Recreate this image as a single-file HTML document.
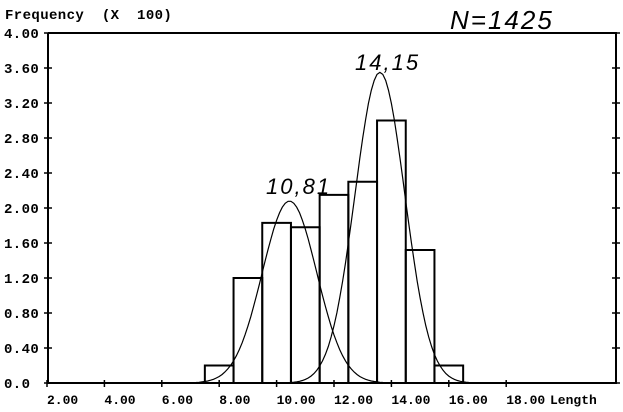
<!DOCTYPE html>
<html><head><style>
html,body{margin:0;padding:0;background:#fff;}
svg{display:block;}
text{font-family:"Liberation Mono",monospace;font-weight:bold;font-size:14px;fill:#000;letter-spacing:0.4px;white-space:pre;}
.xl{font-size:13px;letter-spacing:0;}
.h{font-family:"Liberation Sans",sans-serif;font-style:italic;font-weight:normal;letter-spacing:2px;}
</style></head><body>
<svg id="s" width="623" height="412" viewBox="0 0 623 412" xmlns="http://www.w3.org/2000/svg">
<g stroke="#000" fill="none" stroke-width="2">
<line x1="48" y1="33" x2="617" y2="33"/>
<line x1="48" y1="33" x2="48" y2="384"/>
<line x1="616" y1="33" x2="616" y2="384"/>
<line x1="47" y1="383" x2="617" y2="383"/>
</g>
<g id="ticks" stroke="#000" stroke-width="1.5"></g>
<g id="bars" stroke="#000" stroke-width="2" fill="none"></g>
<g id="curves" stroke="#000" stroke-width="1.2" fill="none"></g>
<text x="5" y="19">Frequency  (X  100)</text>
<g id="ylab"></g>
<g id="xlab"></g>
<text class="xl" x="550" y="404">Length</text>
<text class="h" x="450" y="29" style="font-size:26px">N=1425</text>
<text class="h" x="355" y="70" style="font-size:22px">14,15</text>
<text class="h" x="266" y="194" style="font-size:22px">10,81</text>
</svg>
<script>
var NS="http://www.w3.org/2000/svg";
function X(v){return 47+(v-2)*28.7;}
function Y(f){return 383-f*87.5;}
function el(p,t,a,txt){var e=document.createElementNS(NS,t);for(var k in a)e.setAttribute(k,a[k]);if(txt)e.textContent=txt;document.getElementById(p).appendChild(e);}
var yl=["0.0","0.40","0.80","1.20","1.60","2.00","2.40","2.80","3.20","3.60","4.00"];
for(var i=0;i<=10;i++){var y=Y(i*0.4);
 el("ylab","text",{x:4,y:y+5},yl[i]);
 el("ticks","line",{x1:44,y1:y,x2:52,y2:y});
 el("ticks","line",{x1:612,y1:y,x2:620,y2:y});}
for(var v=2;v<=18;v+=2){var x=X(v);
 el("xlab","text",{x:x,y:404,"class":"xl"},v.toFixed(2));
 el("ticks","line",{x1:x,y1:380,x2:x,y2:387});}
var b=[[7.5,0.2],[8.5,1.2],[9.5,1.83],[10.5,1.78],[11.5,2.15],[12.5,2.30],[13.5,3.0],[14.5,1.52],[15.5,0.2]];
b.forEach(function(r){el("bars","rect",{x:X(r[0]),y:Y(r[1]),width:28.7,height:383-Y(r[1])});});
function g(m,s,a,lo,hi){var d="";for(var v=lo;v<=hi;v+=0.1){var f=a*Math.exp(-(v-m)*(v-m)/(2*s*s));d+=(d?"L":"M")+X(v).toFixed(1)+","+Y(f).toFixed(1);}el("curves","path",{d:d});}
g(10.45,0.95,2.08,6.8,13.8);
g(13.6,0.87,3.55,10.3,16.8);
</script>
</body></html>
